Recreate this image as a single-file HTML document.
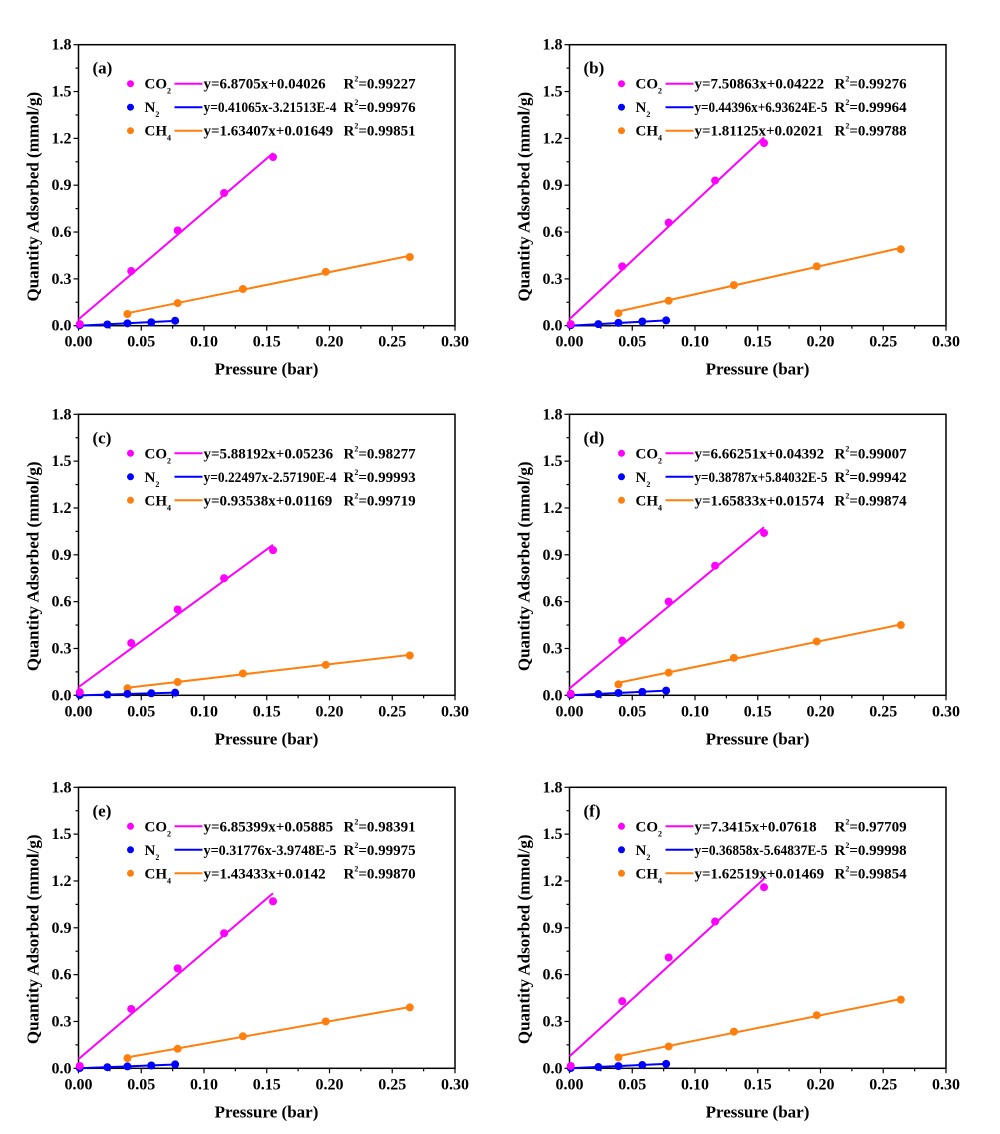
<!DOCTYPE html>
<html><head><meta charset="utf-8"><style>
body{margin:0;background:#fff;}
svg{display:block;font-family:"Liberation Serif",serif;font-weight:bold;}
</style></head><body>
<svg id="chart" width="1000" height="1134" viewBox="0 0 1000 1134" xmlns="http://www.w3.org/2000/svg"></svg>
<script>
const panelLabels=["(a)","(b)","(c)","(d)","(e)","(f)"];
const xTickVals=[0,0.05,0.10,0.15,0.20,0.25,0.30];
const xTickLabels=["0.00","0.05","0.10","0.15","0.20","0.25","0.30"];
const yTickVals=[0,0.3,0.6,0.9,1.2,1.5,1.8];
const yTickLabels=["0.0","0.3","0.6","0.9","1.2","1.5","1.8"];
const gases=["CO2","N2","CH4"];
const co2X=[0.001,0.042,0.079,0.116,0.155];
const n2X=[0.001,0.023,0.039,0.058,0.077];
const ch4X=[0.039,0.079,0.131,0.197,0.264];
const co2Y=[[0.01,0.35,0.61,0.85,1.08],[0.01,0.38,0.66,0.93,1.17],[0.02,0.335,0.55,0.75,0.93],[0.01,0.35,0.60,0.83,1.04],[0.015,0.38,0.64,0.865,1.07],[0.015,0.43,0.71,0.94,1.16]];
const n2Y=[[0.003,0.008,0.015,0.022,0.032],[0.003,0.01,0.018,0.027,0.034],[0.002,0.005,0.009,0.013,0.017],[0.003,0.008,0.015,0.022,0.03],[0.002,0.007,0.012,0.018,0.025],[0.002,0.008,0.014,0.021,0.028]];
const ch4Y=[[0.075,0.145,0.235,0.345,0.44],[0.08,0.16,0.26,0.38,0.49],[0.045,0.085,0.14,0.195,0.255],[0.07,0.145,0.24,0.345,0.45],[0.065,0.125,0.205,0.30,0.39],[0.07,0.14,0.235,0.34,0.44]];
const co2Slope=[6.8705,7.50863,5.88192,6.66251,6.85399,7.3415];
const co2Int=[0.04026,0.04222,0.05236,0.04392,0.05885,0.07618];
const n2Slope=[0.41065,0.44396,0.22497,0.38787,0.31776,0.36858];
const n2Int=[-3.21513e-4,6.93624e-5,-2.5719e-4,5.84032e-5,-3.9748e-5,-5.64837e-5];
const ch4Slope=[1.63407,1.81125,0.93538,1.65833,1.43433,1.62519];
const ch4Int=[0.01649,0.02021,0.01169,0.01574,0.0142,0.01469];
const co2Eq=["y=6.8705x+0.04026","y=7.50863x+0.04222","y=5.88192x+0.05236","y=6.66251x+0.04392","y=6.85399x+0.05885","y=7.3415x+0.07618"];
const n2Eq=["y=0.41065x-3.21513E-4","y=0.44396x+6.93624E-5","y=0.22497x-2.57190E-4","y=0.38787x+5.84032E-5","y=0.31776x-3.9748E-5","y=0.36858x-5.64837E-5"];
const ch4Eq=["y=1.63407x+0.01649","y=1.81125x+0.02021","y=0.93538x+0.01169","y=1.65833x+0.01574","y=1.43433x+0.0142","y=1.62519x+0.01469"];
const co2R=["0.99227","0.99276","0.98277","0.99007","0.98391","0.97709"];
const n2R=["0.99976","0.99964","0.99993","0.99942","0.99975","0.99998"];
const ch4R=["0.99851","0.99788","0.99719","0.99874","0.99870","0.99854"];

const NS="http://www.w3.org/2000/svg";
const svg=document.getElementById('chart');
function mk(tag,attrs,parent){const e=document.createElementNS(NS,tag);for(const k in attrs)e.setAttribute(k,attrs[k]);(parent||svg).appendChild(e);return e;}
const colors=["#ff00ff","#0000ff","#ff7f0e"];
const origins=[[78.5,44.7],[569.5,44.7],[78.5,414.3],[569.5,414.3],[78.5,787.3],[569.5,787.3]];
const PW=376.5,PH=281;
origins.forEach((o,p)=>{
  const g=mk('g',{});
  
  
  const X=v=>o[0]+v/0.30*PW, Y=v=>o[1]+PH-v/1.8*PH;
  const frame=mk('rect',{x:o[0],y:o[1],width:PW,height:PH,fill:'none',stroke:'#000','stroke-width':1.5},g);
  
  for(let i=0;i<=12;i++){const v=i*0.025;const len=i%2?3:5;
    mk('line',{x1:X(v),x2:X(v),y1:o[1]+PH,y2:o[1]+PH+len,stroke:'#000','stroke-width':1.2},g);}
  xTickVals.forEach((v,i)=>{const t=mk('text',{x:X(v),y:o[1]+PH+21,'text-anchor':'middle','font-size':16},g);t.textContent=xTickLabels[i];
    });
  for(let i=0;i<=12;i++){const v=i*0.15;const len=i%2?3:5;
    mk('line',{x1:o[0],x2:o[0]-len,y1:Y(v),y2:Y(v),stroke:'#000','stroke-width':1.2},g);}
  yTickVals.forEach((v,i)=>{const t=mk('text',{x:o[0]-7,y:Y(v)+5,'text-anchor':'end','font-size':16},g);t.textContent=yTickLabels[i];
    });
  const xt=mk('text',{x:o[0]+188,y:o[1]+PH+49,'text-anchor':'middle','font-size':17},g);xt.textContent="Pressure (bar)";
  
  const yt=mk('text',{x:0,y:0,'text-anchor':'middle','font-size':17,transform:`translate(${o[0]-40},${o[1]+152}) rotate(-90)`},g);yt.textContent="Quantity Adsorbed (mmol/g)";
  
  const pl=mk('text',{x:o[0]+14,y:o[1]+29,'font-size':17},g);pl.textContent=panelLabels[p];
  
  const xsAll=[co2X,n2X,ch4X],ysAll=[co2Y[p],n2Y[p],ch4Y[p]];
  const sl=[co2Slope[p],n2Slope[p],ch4Slope[p]],ic=[co2Int[p],n2Int[p],ch4Int[p]];
  const fitRange=[[0,co2X[4]],[0,n2X[4]],[ch4X[0],ch4X[4]]];
  [2,1,0].forEach(s=>{
    const [a,b]=fitRange[s];
    const ln=mk('line',{x1:X(a),y1:Y(sl[s]*a+ic[s]),x2:X(b),y2:Y(sl[s]*b+ic[s]),stroke:colors[s],'stroke-width':2},g);
    
    xsAll[s].forEach((xv,i)=>{const c=mk('circle',{cx:X(xv),cy:Y(ysAll[s][i]),r:4,fill:colors[s]},g);
      });
  });
  const eqs=[co2Eq[p],n2Eq[p],ch4Eq[p]],rs=[co2R[p],n2R[p],ch4R[p]];
  const subs=[["CO","2"],["N","2"],["CH","4"]];
  for(let s=0;s<3;s++){
    const ly=o[1]+39+s*23.5;
    const lg=mk('g',{},g);
    mk('circle',{cx:o[0]+52,cy:ly,r:3.5,fill:colors[s]},lg);
    const t=mk('text',{x:o[0]+66,y:ly+5,'font-size':15},lg);
    t.textContent=subs[s][0];const ts=mk('tspan',{'font-size':8,dy:5},t);ts.textContent=subs[s][1];
    mk('line',{x1:o[0]+96,x2:o[0]+124,y1:ly,y2:ly,stroke:colors[s],'stroke-width':2},lg);
    const e=mk('text',{x:o[0]+125,y:ly+5,'font-size':15},lg);e.textContent=eqs[s];
    const w=e.getComputedTextLength();
    if(w>133){e.setAttribute('textLength',133);e.setAttribute('lengthAdjust','spacingAndGlyphs');}
    const r=mk('text',{x:o[0]+265,y:ly+5,'font-size':15},lg);r.textContent="R";
    const sp=mk('tspan',{'font-size':8,dy:-7},r);sp.textContent="2";
    const sp2=mk('tspan',{dy:7},r);sp2.textContent="="+rs[s];
  }
});
</script>
</body></html>
